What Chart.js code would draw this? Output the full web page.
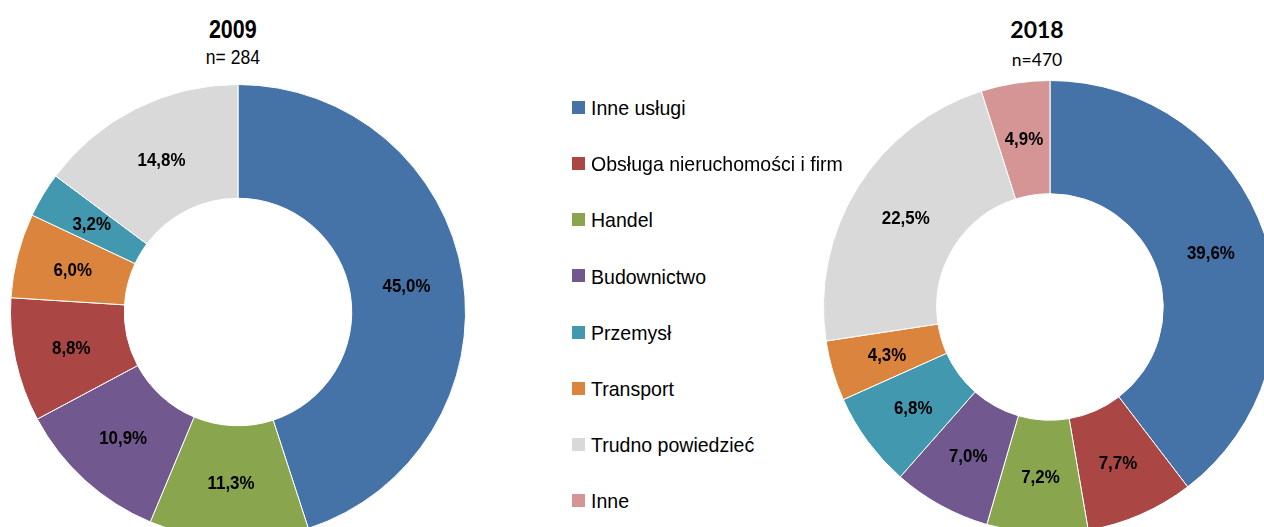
<!DOCTYPE html>
<html>
<head>
<meta charset="utf-8">
<script src="https://cdn.jsdelivr.net/npm/chart.js@4/dist/chart.umd.min.js"></script>
<style>
  html, body { margin: 0; padding: 0; width: 1264px; height: 527px; overflow: hidden; background: #fff; }
  .narrow { font-family: 'Liberation Sans Narrow', 'Arial Narrow', 'Liberation Sans', sans-serif; }
  .wrap { position: absolute; }
  .t { position: absolute; white-space: nowrap; color: #000; }
  .tc { display: inline-block; transform-origin: center center; }
  #legend { position: absolute; left: 572px; top: 0; }
  .li { position: absolute; left: 0; white-space: nowrap; font-size: 21px; line-height: 21px; color: #000; }
  .sw { position: absolute; left: 0; width: 13px; height: 13px; }
  .lt { position: absolute; left: 19px; top: 0; transform: scaleX(0.93); transform-origin: left center; }
</style>
</head>
<body>
<div class="t narrow" style="left:133px; width:200px; text-align:center; top:16.8px; font-size:25px; line-height:25px; font-weight:bold;"><span class="tc" style="transform:scaleX(0.86)">2009</span></div>
<div class="t narrow" style="left:133px; width:200px; text-align:center; top:47px; font-size:20px; line-height:20px;"><span class="tc" style="transform:scaleX(0.875)">n= 284</span></div>
<div class="t" style="left:937px; width:200px; text-align:center; top:17.9px; font-size:23px; line-height:23px; font-weight:bold; font-family:Lato, 'Open Sans', sans-serif;">2018</div>
<div class="t" style="left:937px; width:200px; text-align:center; top:50.5px; font-size:17.5px; line-height:17.5px; font-family:Lato, 'Open Sans', sans-serif;">n=470</div>

<div class="wrap" style="left:10px; top:84px; width:456px; height:456px;"><canvas id="c1"></canvas></div>
<div class="wrap" style="left:823px; top:80px; width:454px; height:454px;"><canvas id="c2"></canvas></div>
<div id="legend" class="narrow"></div>

<script>
// Legend categories and colours
const legendLabels = ['Inne usługi', 'Obsługa nieruchomości i firm', 'Handel', 'Budownictwo', 'Przemysł', 'Transport', 'Trudno powiedzieć', 'Inne'];
const legendColors = ['#4572A7', '#AA4643', '#89A54E', '#71588F', '#4198AF', '#DB843D', '#D9D9D9', '#D69595'];

// 2009 (clockwise from top)
const cats2009 = ['Inne usługi', 'Handel', 'Budownictwo', 'Obsługa nieruchomości i firm', 'Transport', 'Przemysł', 'Trudno powiedzieć'];
const vals2009 = [45.0, 11.3, 10.9, 8.8, 6.0, 3.2, 14.8];

// 2018 (clockwise from top)
const cats2018 = ['Inne usługi', 'Obsługa nieruchomości i firm', 'Handel', 'Budownictwo', 'Przemysł', 'Transport', 'Trudno powiedzieć', 'Inne'];
const vals2018 = [39.6, 7.7, 7.2, 7.0, 6.8, 4.3, 22.5, 4.9];

const colorOf = c => legendColors[legendLabels.indexOf(c)];

// legend
const lg = document.getElementById('legend');
legendLabels.forEach((l, i) => {
  const base = 115 + 56.14 * i;
  const d = document.createElement('div');
  d.className = 'li';
  d.style.top = (base - 17.8) + 'px';
  d.innerHTML = '<span class="sw" style="top:3.8px;background:' + legendColors[i] + '"></span><span class="lt"></span>';
  d.querySelector('.lt').textContent = l;
  lg.appendChild(d);
});

const labelPlugin = {
  id: 'sliceLabels',
  afterDatasetsDraw(chart) {
    const ctx = chart.ctx;
    const meta = chart.getDatasetMeta(0);
    const data = chart.data.datasets[0].data;
    meta.data.forEach((arc, i) => {
      const p = arc.tooltipPosition();
      ctx.save();
      ctx.translate(p.x, p.y);
      ctx.scale(0.89, 1);
      ctx.font = "bold 19px 'Liberation Sans Narrow', 'Arial Narrow', 'Liberation Sans', sans-serif";
      ctx.fillStyle = '#000';
      ctx.textAlign = 'center';
      ctx.textBaseline = 'middle';
      ctx.fillText(data[i].toFixed(1).replace('.', ',') + '%', 0, 1);
      ctx.restore();
    });
  }
};

function makeChart(id, cats, vals) {
  new Chart(document.getElementById(id), {
    type: 'doughnut',
    data: {
      labels: cats,
      datasets: [{
        data: vals,
        backgroundColor: cats.map(colorOf),
        borderColor: '#ffffff',
        borderWidth: 1
      }]
    },
    options: {
      responsive: true,
      maintainAspectRatio: false,
      animation: false,
      cutout: '50%',
      layout: { padding: 0 },
      plugins: { legend: { display: false }, tooltip: { enabled: false } }
    },
    plugins: [labelPlugin]
  });
}
makeChart('c1', cats2009, vals2009);
makeChart('c2', cats2018, vals2018);
</script>
</body>
</html>
